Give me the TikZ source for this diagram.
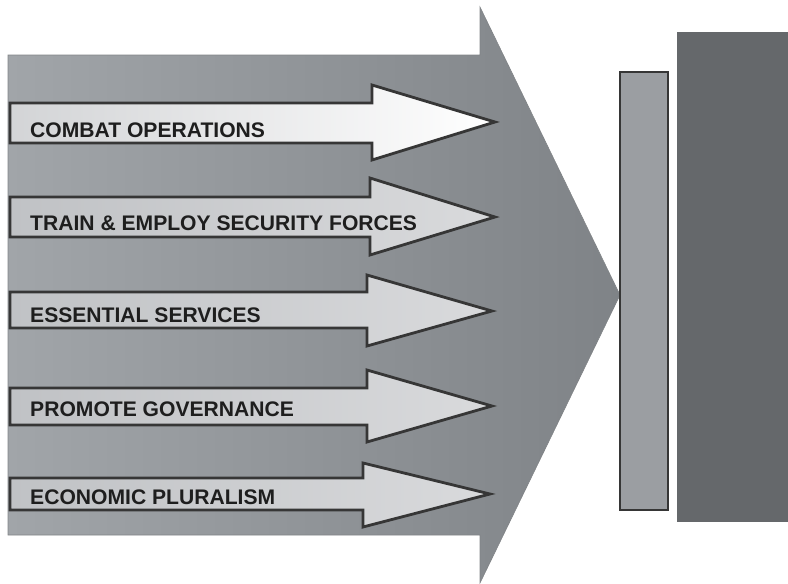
\documentclass[tikz,border=0pt]{standalone}
\usepackage{fontspec}
\setmainfont{Liberation Sans}
\definecolor{edgegray}{HTML}{363636}
\definecolor{biglo}{HTML}{A1A5A9}
\definecolor{bighi}{HTML}{7F8387}
\definecolor{lanelo}{HTML}{C0C2C5}
\definecolor{lanehi}{HTML}{D9DADC}
\definecolor{barfill}{HTML}{9B9EA2}
\definecolor{blockfill}{HTML}{65686B}
\definecolor{inkgray}{HTML}{1E1E1E}
\begin{document}
\begin{tikzpicture}[x=1pt, y=-1pt,
    bigarrow/.style={
        left color=biglo,
        right color=bighi,
        draw=biglo!80!black,
        line width=0.6pt
    },
    lane/.style={
        draw=edgegray,
        line width=2.8pt,
        line join=miter,
        left color=lanelo,
        right color=lanehi
    },
    firstlane/.style={
        lane,
        left color=lanelo!70!white,
        right color=white
    },
    label/.style={
        anchor=base west,
        inner sep=0pt,
        font=\bfseries\fontsize{21.1}{23}\selectfont,
        text=inkgray
    }
]

\useasboundingbox (0,0) rectangle (788,584);

%%%%%%%%%%%%%%%%%%%%%%%%
% Flecha grande
%%%%%%%%%%%%%%%%%%%%%%%%

\draw[bigarrow]
    (8,55) -- (480,55) -- (480,7) -- (620,295)
    -- (480,583) -- (480,535) -- (8,535) -- cycle;

%%%%%%%%%%%%%%%%%%%%%%%%
% Flechas pequenas
%%%%%%%%%%%%%%%%%%%%%%%%

% --- Combat ---
\draw[firstlane]
    (10,103) -- (372,103) -- (372,85) -- (495,122)
    -- (372,160) -- (372,143) -- (10,143) -- cycle;
\node[label] (combat) at (30,137) {COMBAT OPERATIONS};

% --- Train ---
\draw[lane]
    (10,197) -- (370,197) -- (370,178) -- (495,217)
    -- (370,255) -- (370,237) -- (10,237) -- cycle;
\node[label] (train) at (30,230) {TRAIN \& EMPLOY SECURITY FORCES};

% --- Services ---
\draw[lane]
    (10,292) -- (367,292) -- (367,275) -- (492,311)
    -- (367,346) -- (367,328) -- (10,328) -- cycle;
\node[label] (services) at (30,322) {ESSENTIAL SERVICES};

% --- Governance ---
\draw[lane]
    (10,388) -- (367,388) -- (367,370) -- (492,406)
    -- (367,442) -- (367,425) -- (10,425) -- cycle;
\node[label] (governance) at (30,416) {PROMOTE GOVERNANCE};

% --- Economy ---
\draw[lane]
    (10,478) -- (363,478) -- (363,463) -- (490,494)
    -- (363,527) -- (363,510) -- (10,510) -- cycle;
\node[label] (economy) at (30,504) {ECONOMIC PLURALISM};

%%%%%%%%%%%%%%%%%%%%%%%%
% Barras
%%%%%%%%%%%%%%%%%%%%%%%%

\draw[fill=barfill, draw=edgegray, line width=1.6pt]
    (620,72) rectangle (668,510);
\fill[blockfill] (677,32) rectangle (788,522);

\end{tikzpicture}
\end{document}
